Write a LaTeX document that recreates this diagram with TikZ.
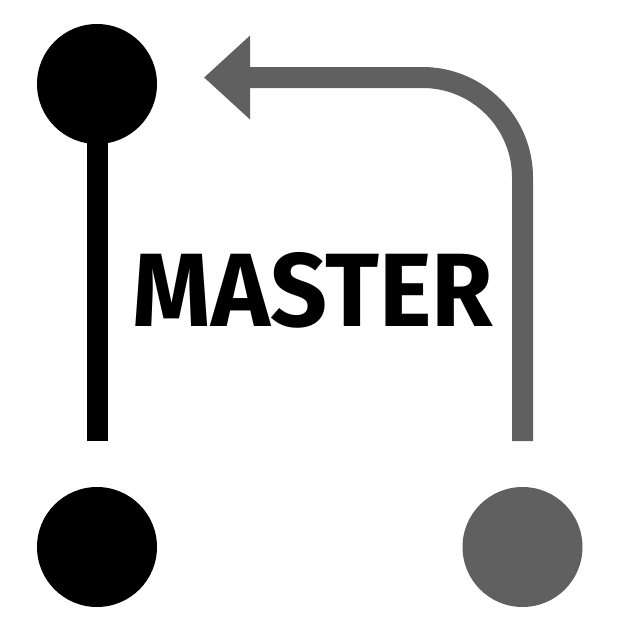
\documentclass[tikz,border=0pt]{standalone}
\usepackage{fontspec}
\setmainfont{Fira Sans}
\usepackage{graphicx}
\usepackage{tikz}
\usetikzlibrary{arrows.meta,positioning}
\definecolor{branchgray}{HTML}{606060}
\tikzset{
  commit/.style={circle, minimum size=120pt, inner sep=0pt, draw=none, fill=#1},
  commit/.default=black,
  trunk/.style={line width=21pt, draw=black},
  branch/.style={line width=21pt, draw=branchgray, rounded corners=100pt, -{Triangle[length=46pt, width=81pt]}},
  tag/.style={inner sep=0pt, font=\bfseries},
}

\begin{document}
\begin{tikzpicture}[x=1pt, y=-1pt]
  \useasboundingbox (0,0) rectangle (628,632);
  \node[commit] (top) at (97,84) {};
  \node[commit] (base) at (97,547) {};
  \node[commit=branchgray] (feature) at (522.5,547) {};
  \coordinate (trunkend) at (97,441);
  \coordinate (branchstart) at (522.5,441);
  \coordinate (branchtip) at (204,77.5);
  \draw[trunk] (top.center) -- (trunkend);
  \draw[branch] (branchstart) |- (branchtip);
  \node[tag] (label) at (313,290) {\resizebox{360pt}{74pt}{MASTER}};
\end{tikzpicture}
\end{document}
